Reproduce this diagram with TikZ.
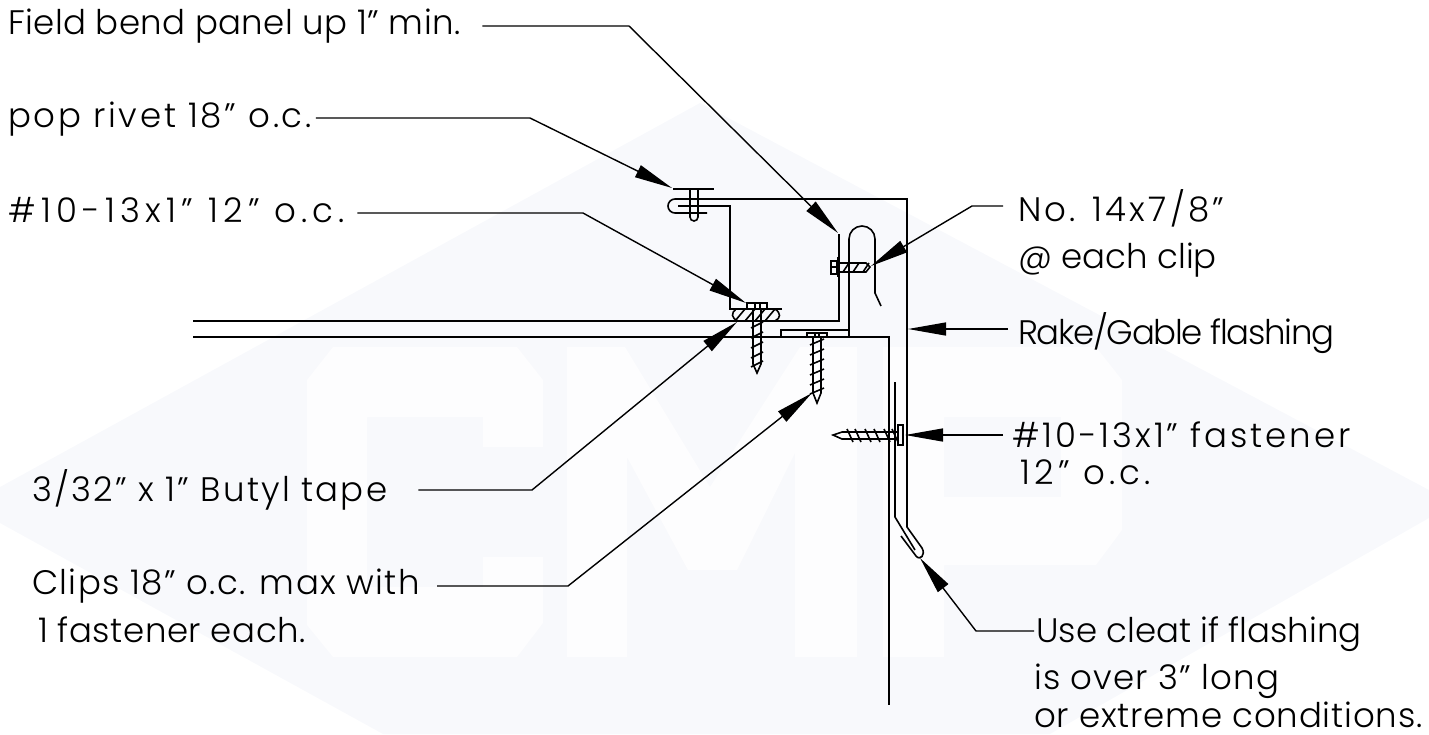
\documentclass[tikz,border=0pt]{standalone}
\usepackage{fontspec}
\setmainfont{Poppins Light}
\usepackage{tikz}
\usetikzlibrary{arrows.meta}

\definecolor{wmark}{HTML}{F8F9FC}
\definecolor{wletter}{HTML}{FDFDFE}
\tikzset{
  note/.style={anchor=base west, inner sep=0pt, font=\fontsize{34}{34}\selectfont\addfontfeature{LetterSpace=#1}},
  note/.default=0,
  leader/.style={line width=1.4pt, -{Triangle[length=38pt,width=13pt]}},
  part/.style={line width=1.6pt},
  fine/.style={line width=1.1pt}
}

\begin{document}
\begin{tikzpicture}[x=1pt,y=-1pt]
\useasboundingbox (0,0) rectangle (1429,734);

% Watermark
\fill[wmark] (0,487) -- (700,103) -- (1429,490) -- (1429,518) -- (1050,734) -- (383,734) -- (0,523) -- cycle;
\fill[wletter] (333,347) -- (517,347) -- (543,380) -- (543,447) -- (483,447) -- (483,417) -- (367,417) -- (367,587) -- (483,587) -- (483,557) -- (543,557) -- (543,623) -- (517,657) -- (333,657) -- (307,625) -- (307,380) -- cycle;
\fill[wletter] (567,347) -- (625,347) -- (710,487) -- (800,347) -- (857,347) -- (857,657) -- (795,657) -- (795,453) -- (737,570) -- (688,570) -- (627,457) -- (627,657) -- (567,657) -- cycle;
\fill[wletter,even odd rule] (883,347) -- (1096,347) -- (1122,380) -- (1122,530) -- (1096,565) -- (944,565) -- (944,657) -- (883,657) -- cycle (944,417) rectangle (1061,497);

% Labels
\node[note=1.1] (bend) at (8,34) {Field bend panel up 1" min.};
\node[note=8] (rivet) at (8,127) {pop rivet 18" o.c.};
\node[note=15.5] (screw) at (8,222) {\#10-13x1" 12" o.c.};
\node[note=6.5] (butyl) at (32,501) {3/32" x 1" Butyl tape};
\node[note=4] (clips) at (32,594) {Clips 18" o.c. max with};
\node[note=1.5] (clipsb) at (38,642) {1 fastener each.};
\node[note=9.5] (nofour) at (1018,221) {No. 14x7/8"};
\node[note] (nofourb) at (1018,268) {@ each clip};
\node[note=-4] (rake) at (1018,344) {Rake/Gable flashing};
\node[note=8.5] (fast) at (1012,447) {\#10-13x1" fastener};
\node[note=12.5] (fastb) at (1020,484) {12" o.c.};
\node[note] (cleat) at (1036,642) {Use cleat if flashing};
\node[note=3.3] (cleatb) at (1034,689) {is over 3" long};
\node[note=2.4] (cleatc) at (1034,727) {or extreme conditions.};

% Panel, clip and flashing
\draw[part] (193,321) -- (839,321) -- (839,234);
\draw[part] (193,337) -- (889,337) -- (889,705);
\draw[part] (781,337) -- (781,330) -- (849,330) -- (849,239) arc[start angle=180, end angle=360, radius=13] -- (875,293) -- (881,306);
\draw[part] (849,330) -- (849,337);
\draw[part] (782,309) -- (730,309) -- (730,206) -- (678,206);
\draw[part] (707,213) -- (675,213) arc[start angle=90, end angle=270, radius=7] -- (907,199) -- (907,527) -- (922,548) .. controls (926,555) and (920,561) .. (916,556) -- (901,536);
\draw[part] (895,382) -- (895,517) -- (915,550);

% Pop rivet
\draw[part] (673,189) -- (714,189);
\draw[part] (690,189) -- (690,217) arc[start angle=180, end angle=0, radius=4] -- (698,189);

% Butyl tape
\draw[part] (736,309) .. controls (731,313) and (731,318) .. (738,321);
\draw[part] (775,309) .. controls (781,313) and (781,318) .. (775,321);
\foreach \x in {735,745,755,765}
  \draw[part] (\x,321) -- (\x+10,309);

% Panel screw
\draw[fine,fill=white] (747,303) rectangle (767,309);
\draw[fine] (755,303) -- (755,309) (760,303) -- (760,309);
\draw[part] (753,309) -- (753,364) -- (757,373) -- (761,364) -- (761,309);
\foreach \y in {325,335,345,355,364}
  \draw[part] (751,\y+3) -- (763,\y-3);

% Clip screw
\draw[part] (807,338) -- (807,333) -- (827,333) -- (827,338);
\draw[fine] (815,333) -- (815,338) (819,333) -- (819,338);
\draw[part] (813,338) -- (813,393) -- (817,403) -- (821,393) -- (821,338);
\foreach \y in {342,352,362,372,382,391}
  \draw[part] (810,\y+3) -- (824,\y-3);

% Flashing fastener
\draw[fine,fill=wmark] (898,425) rectangle (903,445);
\draw[part] (897,432) -- (842,432) -- (833,435) -- (842,439) -- (897,439);
\foreach \x in {850,858,868,877,887,895}
  \draw[part] (\x-3,429) -- (\x+3,442);

% Clip bolt
\draw[part] (831,261) rectangle (837,274);
\draw[fine] (831,267) -- (837,267);
\draw[line width=2pt] (837.5,257) -- (837.5,277);
\draw[part] (839,263) -- (866,263) -- (870,267) -- (866,272) -- (839,272);
\foreach \x in {843,853,863}
  \draw[part] (\x,272) -- (\x+6,263);

% Leaders
\coordinate (bendknee) at (629,26);
\coordinate (bendtip) at (838,233);
\coordinate (rivetknee) at (530,118);
\coordinate (rivettip) at (672,188);
\coordinate (screwknee) at (583,213);
\coordinate (screwtip) at (746,303);
\coordinate (butylknee) at (532,490);
\coordinate (butyltip) at (737,322);
\coordinate (clipsknee) at (568,586);
\coordinate (clipstip) at (812,393);
\coordinate (nofourknee) at (972,206);
\coordinate (nofourtip) at (871,266);
\coordinate (raketip) at (908,329);
\coordinate (fasttip) at (905,435);
\coordinate (cleatknee) at (976,631);
\coordinate (cleattip) at (920,558);

\draw[leader] ([xshift=22pt]bend.east |- bendknee) -- (bendknee) -- (bendtip);
\draw[leader] ([xshift=4pt]rivet.east |- rivetknee) -- (rivetknee) -- (rivettip);
\draw[leader] ([xshift=12pt]screw.east |- screwknee) -- (screwknee) -- (screwtip);
\draw[leader] ([xshift=31pt]butyl.east |- butylknee) -- (butylknee) -- (butyltip);
\draw[leader] ([xshift=17pt]clips.east |- clipsknee) -- (clipsknee) -- (clipstip);
\draw[leader] ([xshift=-15pt]nofour.west |- nofourknee) -- (nofourknee) -- (nofourtip);
\draw[leader] ([xshift=-10pt]rake.west |- raketip) -- (raketip);
\draw[leader] ([xshift=-9pt]fast.west |- fasttip) -- (fasttip);
\draw[leader] ([xshift=-2pt]cleat.west |- cleatknee) -- (cleatknee) -- (cleattip);

\end{tikzpicture}
\end{document}
